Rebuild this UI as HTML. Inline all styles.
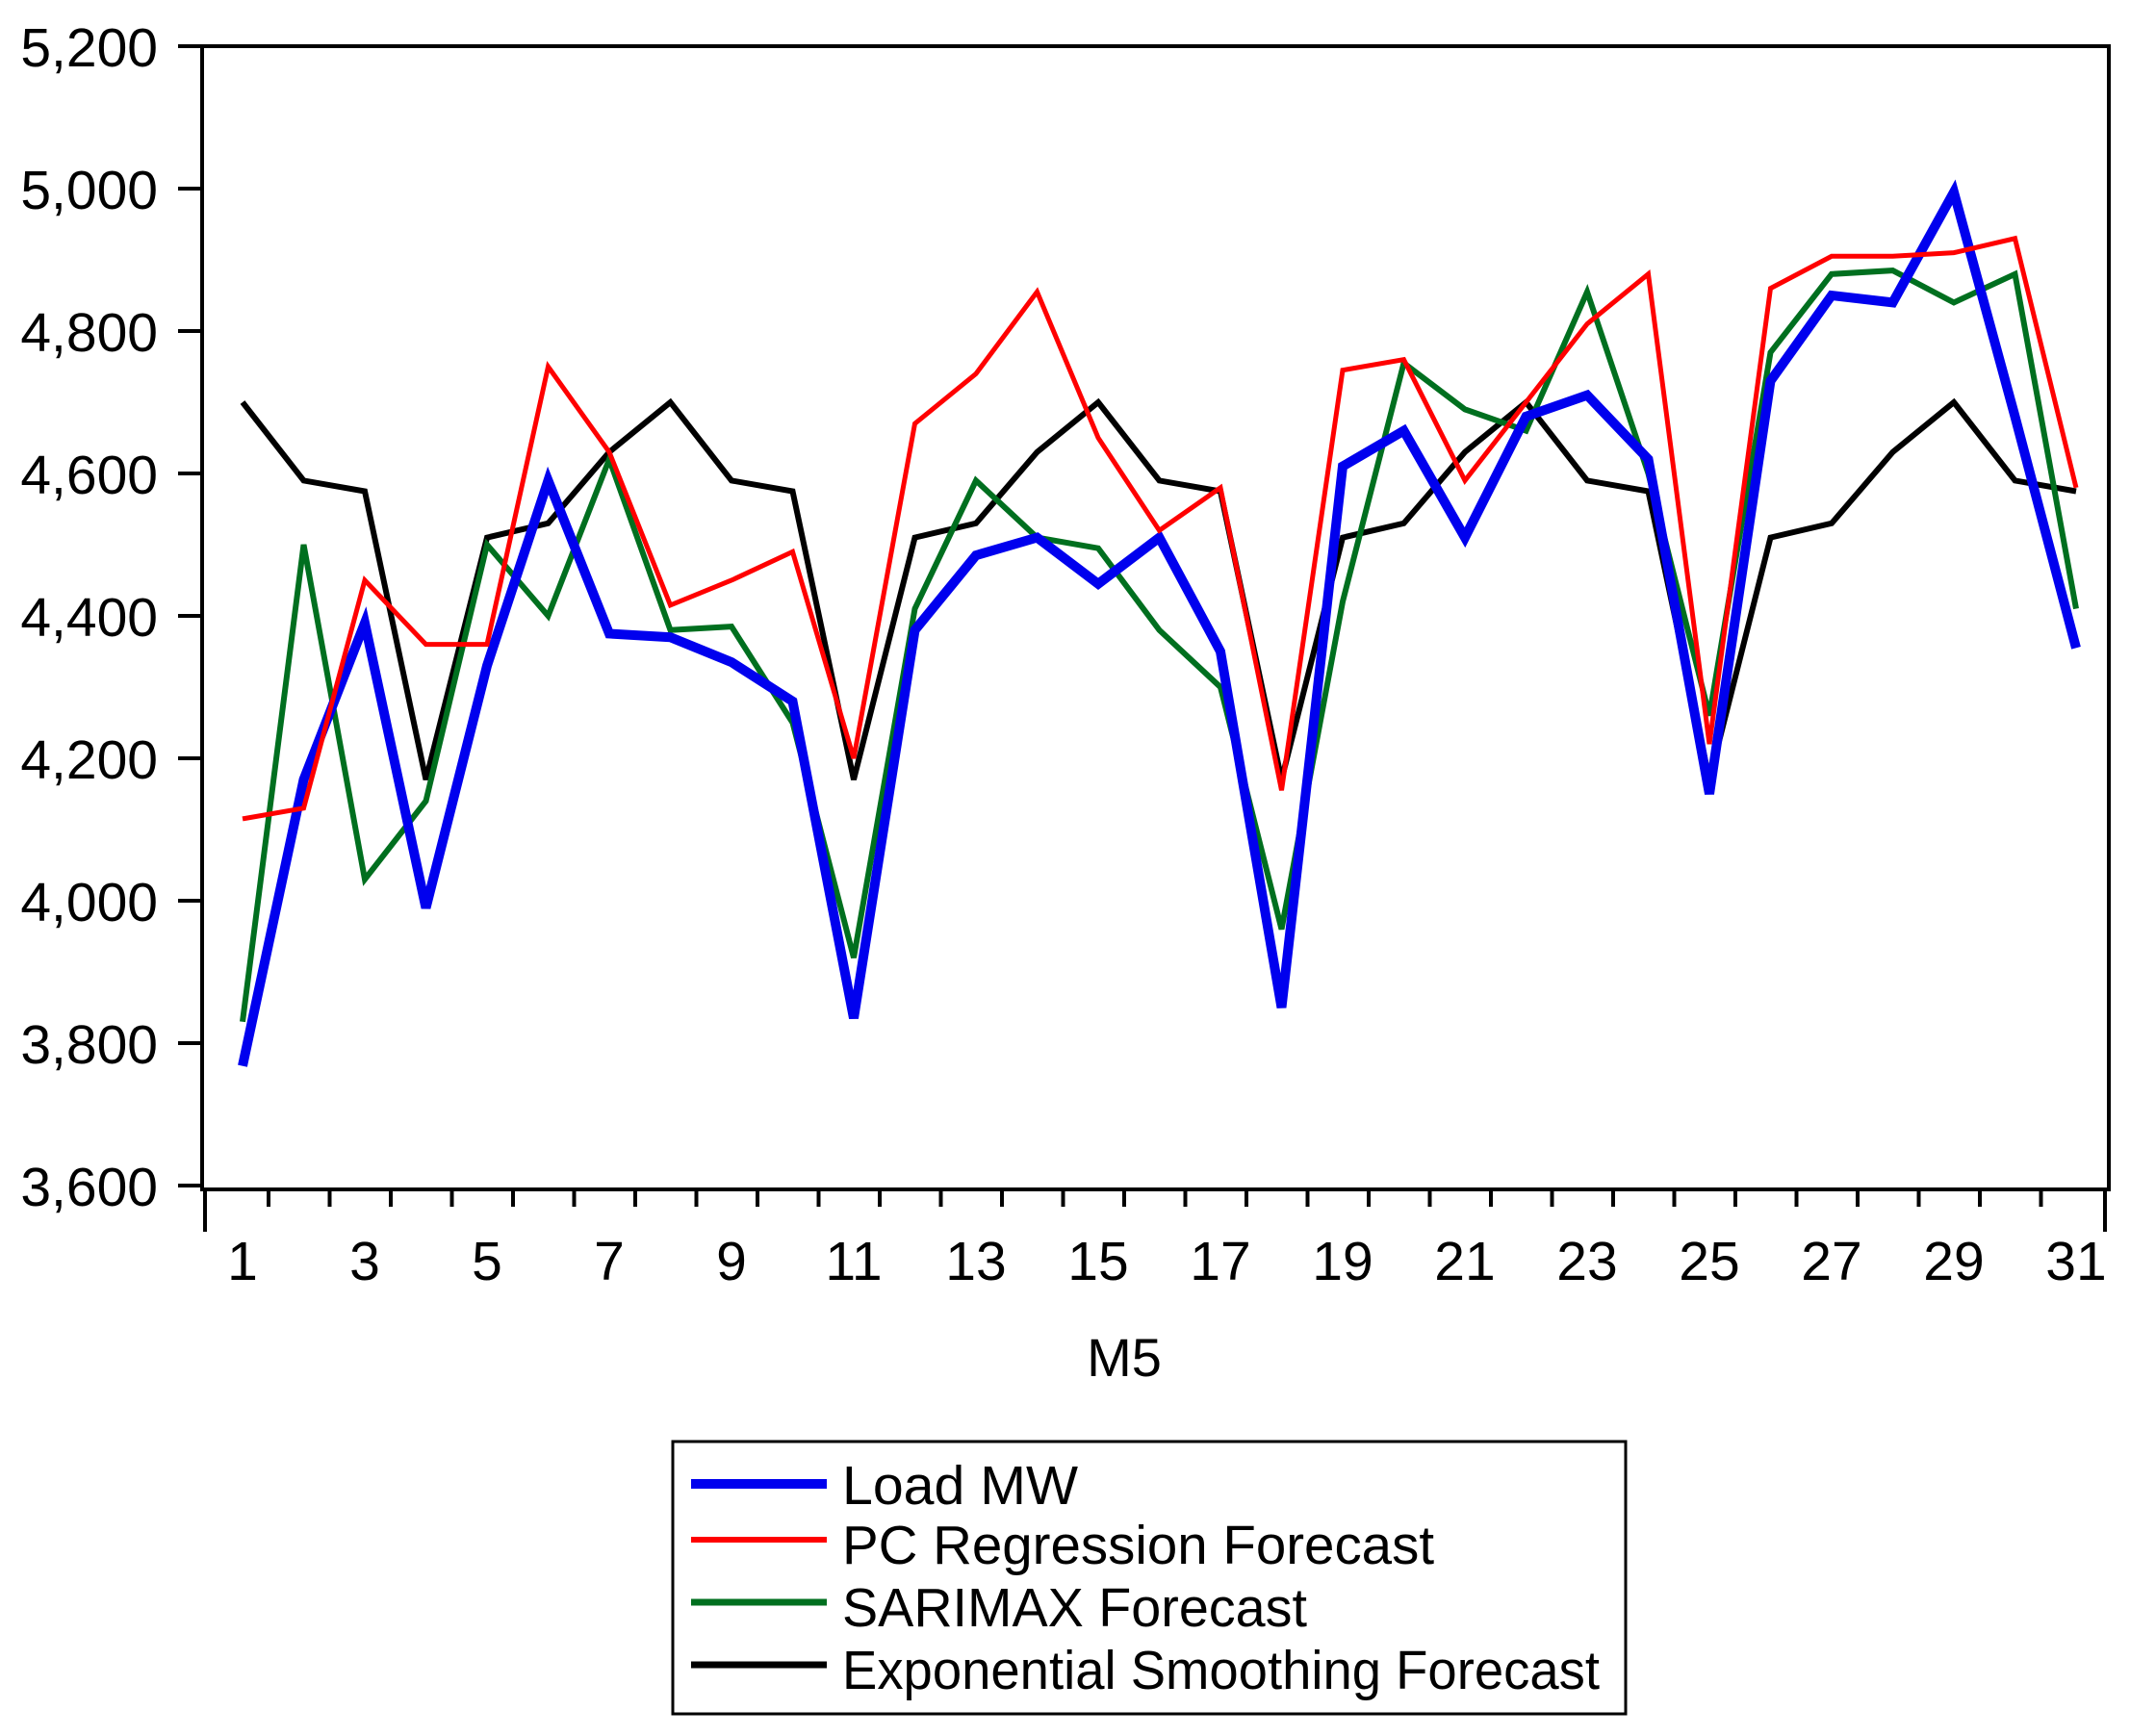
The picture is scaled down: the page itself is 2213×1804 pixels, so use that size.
<!DOCTYPE html>
<html><head><meta charset="utf-8"><style>
body{margin:0;background:#fff}
svg{display:block;font-family:"Liberation Sans",sans-serif}
</style></head><body>
<svg id="chart" width="2213" height="1804" viewBox="0 0 2213 1804" xmlns="http://www.w3.org/2000/svg">
<rect x="0" y="0" width="2213" height="1804" fill="#fff"/>
<g id="plot"></g>
<rect x="210" y="48" width="1981" height="1188" fill="none" stroke="#000" stroke-width="4"/>
<g id="axes"></g>
<text x="1168" y="1430" font-size="56" text-anchor="middle">M5</text>
<g>
<rect x="699" y="1498" width="990" height="283" fill="#fff" stroke="#000" stroke-width="3"/>
<g><line x1="718" y1="1542" x2="859" y2="1542" stroke="#0000ee" stroke-width="10"/><text x="875" y="1563" font-size="57" textLength="245" lengthAdjust="spacingAndGlyphs">Load MW</text></g>
<g><line x1="718" y1="1600" x2="859" y2="1600" stroke="#ff0000" stroke-width="6"/><text x="875" y="1625" font-size="57" textLength="615" lengthAdjust="spacingAndGlyphs">PC Regression Forecast</text></g>
<g><line x1="718" y1="1665" x2="859" y2="1665" stroke="#006f1f" stroke-width="7"/><text x="875" y="1690" font-size="57" textLength="483" lengthAdjust="spacingAndGlyphs">SARIMAX Forecast</text></g>
<g><line x1="718" y1="1730" x2="859" y2="1730" stroke="#000" stroke-width="7"/><text x="875" y="1755" font-size="57" textLength="787" lengthAdjust="spacingAndGlyphs">Exponential Smoothing Forecast</text></g>
</g>
</svg>
<script>
const days = Array.from({length:31},(_,i)=>i+1);
const loadMW = [3768,4170,4390,3990,4330,4590,4375,4370,4335,4280,3835,4380,4485,4510,4445,4510,4350,3850,4610,4660,4510,4680,4710,4620,4150,4730,4850,4840,4995,4680,4355];
const pcRegression = [4115,4130,4450,4360,4360,4750,4630,4415,4450,4490,4200,4670,4740,4855,4650,4520,4580,4155,4745,4760,4590,4700,4810,4880,4220,4860,4905,4905,4910,4930,4580];
const sarimax = [3830,4500,4030,4140,4500,4400,4620,4380,4385,4250,3920,4410,4590,4510,4495,4380,4300,3960,4420,4755,4690,4660,4855,4600,4260,4770,4880,4885,4840,4880,4410];
const expSmoothing = [4700,4590,4575,4170,4510,4530,4630,4700,4590,4575,4170,4510,4530,4630,4700,4590,4575,4170,4510,4530,4630,4700,4590,4575,4170,4510,4530,4630,4700,4590,4575];
const yTicks = [3600,3800,4000,4200,4400,4600,4800,5000,5200];
const yTickLabels = ["3,600","3,800","4,000","4,200","4,400","4,600","4,800","5,000","5,200"];
const xTickLabels = ["1","3","5","7","9","11","13","15","17","19","21","23","25","27","29","31"];

const NS="http://www.w3.org/2000/svg";
const xS = d => 252 + (d-1)*(2157-252)/30;
const yS = v => 48 + (5200-v)/1600*1184;
const plot=document.getElementById('plot'), axes=document.getElementById('axes');
function mk(tag,attrs,parent){const e=document.createElementNS(NS,tag);for(const k in attrs)e.setAttribute(k,attrs[k]);parent.appendChild(e);return e;}

const series=[[sarimax,'#006f1f',6,'series-sarimax'],[pcRegression,'#ff0000',5,'series-pc-regression'],[loadMW,'#0000ee',10,'series-load-mw'],[expSmoothing,'#000',6,'series-exp-smoothing']];
const order=[series[3],series[0],series[2],series[1]];
order.forEach(s=>{
  const pts=s[0].map((v,i)=>xS(days[i]).toFixed(1)+','+yS(v).toFixed(1)).join(' ');
  const p=mk('polyline',{points:pts,fill:'none',stroke:s[1],'stroke-width':s[2],'stroke-linejoin':'miter'},plot);
  
  
});

yTicks.forEach((v,i)=>{
  const t=mk('line',{x1:185,x2:210,y1:yS(v),y2:yS(v),stroke:'#000','stroke-width':4},axes);
  
  
  const l=mk('text',{x:164,y:yS(v)+21,'font-size':57,'text-anchor':'end'},axes);
  l.textContent=yTickLabels[i];
  
  
});
for(let i=1;i<=30;i++){
  const x=xS(i)+27;
  const t=mk('line',{x1:x,x2:x,y1:1236,y2:1254,stroke:'#000','stroke-width':4},axes);
  
  
}
[213,2187].forEach(x=>{
  const t=mk('line',{x1:x,x2:x,y1:1236,y2:1280,stroke:'#000','stroke-width':4},axes);
  
  
});
xTickLabels.forEach(s=>{
  const l=mk('text',{x:xS(+s),y:1330,'font-size':57,'text-anchor':'middle'},axes);
  l.textContent=s;
  
  
});
</script>
</body></html>
